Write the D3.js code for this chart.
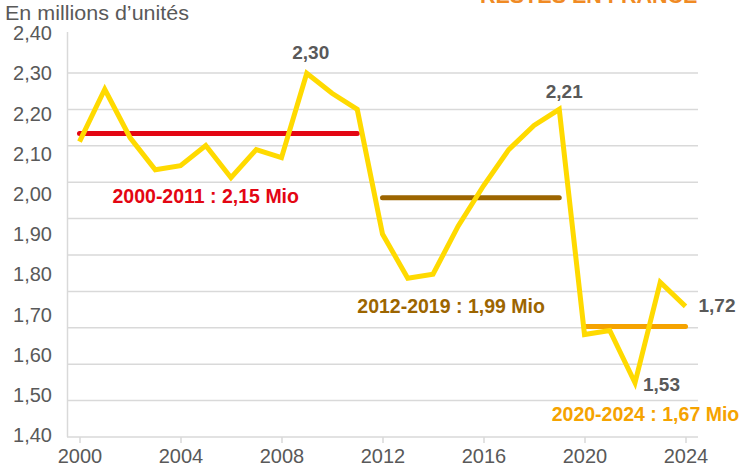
<!DOCTYPE html>
<html>
<head>
<meta charset="utf-8">
<script src="https://cdn.jsdelivr.net/npm/d3@7"></script>
<style>
  body { margin: 0; background: #fff; }
  svg { display: block; font-family: "Liberation Sans", Arial, sans-serif; }
</style>
</head>
<body>
<div id="chart"></div>
<script>
// valeurs (millions d'unités)
var years = [2000, 2001, 2002, 2003, 2004, 2005, 2006, 2007, 2008, 2009, 2010, 2011,
             2012, 2013, 2014, 2015, 2016, 2017, 2018, 2019, 2020, 2021, 2022, 2023, 2024];
var values = [2.13, 2.26, 2.14, 2.06, 2.07, 2.12, 2.04, 2.11, 2.09, 2.30, 2.25, 2.21,
              1.90, 1.79, 1.80, 1.92, 2.02, 2.11, 2.17, 2.21, 1.65, 1.66, 1.53, 1.78, 1.72];
var yTicks = [1.40, 1.50, 1.60, 1.70, 1.80, 1.90, 2.00, 2.10, 2.20, 2.30, 2.40];
var xTicks = [2000, 2004, 2008, 2012, 2016, 2020, 2024];

var periodStart = [2000, 2012, 2020];
var periodEnd = [2011, 2019, 2024];
var periodMean = [2.15, 1.99, 1.67];
var periodLabel = ["2000-2011 : 2,15 Mio", "2012-2019 : 1,99 Mio", "2020-2024 : 1,67 Mio"];
var periodColor = ["#e30613", "#9c6500", "#f5a300"];

var labelYears = [2009, 2019, 2022, 2024];

var w = 739, h = 472;
var svg = d3.select("#chart").append("svg").attr("width", w).attr("height", h);

var x = d3.scaleLinear().domain([2000, 2024]).range([79.5, 685.5]);
var y = d3.scaleLinear().domain([1.40, 2.40]).range([435, 33]);
// le quadrillage n'est pas calé sur les étiquettes dans l'original
var grid = d3.scaleLinear().domain([0, 11]).range([437, 36.6]);

var fr = d3.formatLocale({decimal: ",", thousands: " ", grouping: [3], currency: ["", " €"]});
var f2 = fr.format(".2f");

var axisColor = "#d9d9d9", textColor = "#595959";

svg.append("g").selectAll("line")
  .data(d3.range(1, 11))
  .enter().append("line")
    .attr("x1", 67.5).attr("x2", 698)
    .attr("y1", function(d) { return grid(d); })
    .attr("y2", function(d) { return grid(d); })
    .attr("stroke", axisColor).attr("stroke-width", 1.5);

// axe vertical
svg.append("line")
  .attr("x1", 67.5).attr("x2", 67.5).attr("y1", 32).attr("y2", 437)
  .attr("stroke", axisColor).attr("stroke-width", 1.5);

// axe horizontal
var xAxis = svg.append("g")
  .attr("transform", "translate(0,437)")
  .call(d3.axisBottom(x).tickValues(xTicks).tickFormat(d3.format("d")).tickSize(6).tickPadding(6).tickSizeOuter(0));
xAxis.select(".domain").remove();
xAxis.append("line").attr("x1", 67).attr("x2", 698).attr("stroke", axisColor).attr("stroke-width", 1.5);
xAxis.selectAll(".tick line").attr("stroke", axisColor).attr("stroke-width", 1.5);
xAxis.selectAll(".tick text").attr("fill", textColor).attr("font-size", "20px")
  .attr("font-family", "Liberation Sans, Arial, sans-serif");

// étiquettes de l'axe vertical
svg.append("g").selectAll("text")
  .data(yTicks)
  .enter().append("text")
    .attr("x", 52)
    .attr("y", function(d) { return y(d); })
    .attr("dy", "0.36em")
    .attr("text-anchor", "end")
    .attr("fill", textColor)
    .attr("font-size", "20px")
    .text(function(d) { return f2(d); });

svg.append("text")
  .attr("x", 5).attr("y", 20)
  .attr("fill", textColor).attr("font-size", "20.5px")
  .attr("textLength", 184).attr("lengthAdjust", "spacingAndGlyphs")
  .text("En millions d\u2019unités");

svg.append("text")
  .attr("x", 480).attr("y", 3)
  .attr("fill", "#f08a24").attr("font-size", "21.5px").attr("font-weight", "bold")
  .text("RESTÉS EN FRANCE");

// moyennes par période
svg.append("g").selectAll("line")
  .data(periodMean)
  .enter().append("line")
    .attr("x1", function(d, i) { return x(periodStart[i]); })
    .attr("x2", function(d, i) { return x(periodEnd[i]); })
    .attr("y1", function(d) { return y(d); })
    .attr("y2", function(d) { return y(d); })
    .attr("stroke", function(d, i) { return periodColor[i]; })
    .attr("stroke-width", 5)
    .attr("stroke-linecap", "round");

// courbe annuelle
var line = d3.line()
  .x(function(d, i) { return x(years[i]); })
  .y(function(d) { return y(d); });

svg.append("path")
  .datum(values)
  .attr("d", line)
  .attr("fill", "none")
  .attr("stroke", "#ffda00")
  .attr("stroke-width", 5)
  .attr("stroke-linejoin", "miter");

// libellés des périodes
var periodPos = [[112.5, 203.3], [357.3, 312.7], [551.7, 420.7]];
svg.append("g").selectAll("text")
  .data(periodLabel)
  .enter().append("text")
    .attr("x", function(d, i) { return periodPos[i][0]; })
    .attr("y", function(d, i) { return periodPos[i][1]; })
    .attr("fill", function(d, i) { return periodColor[i]; })
    .attr("font-size", "19.5px")
    .attr("font-weight", "bold")
    .text(function(d) { return d; });

// valeurs remarquables
var labelOffset = {2009: [4, -14, "middle"], 2019: [5, -11, "middle"], 2022: [8, 8, "start"], 2024: [13, 6, "start"]};
svg.append("g").selectAll("text")
  .data(labelYears)
  .enter().append("text")
    .attr("x", function(d) { return x(d) + labelOffset[d][0]; })
    .attr("y", function(d) { return y(values[years.indexOf(d)]) + labelOffset[d][1]; })
    .attr("text-anchor", function(d) { return labelOffset[d][2]; })
    .attr("fill", textColor)
    .attr("font-size", "19px")
    .attr("font-weight", "bold")
    .text(function(d) { return f2(values[years.indexOf(d)]); });
</script>
</body>
</html>
